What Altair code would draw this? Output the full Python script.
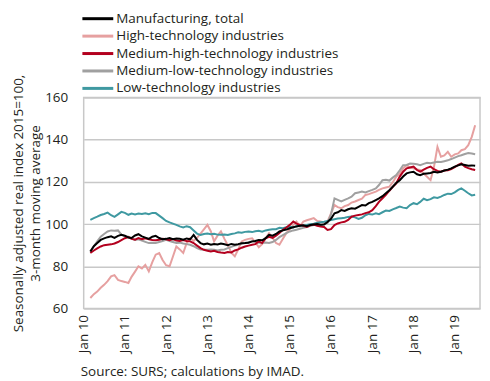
import altair as alt
import pandas as pd

FONT = "Open Sans"
TEXT_COLOR = "#231f20"
FS = 13.5

series_names = [
    "Manufacturing, total",
    "High-technology industries",
    "Medium-high-technology industries",
    "Medium-low-technology industries",
    "Low-technology industries",
]
series_colors = ["#000000", "#e6a0a0", "#b3001e", "#a0a0a0", "#3f99a1"]

# 3-month moving averages, monthly from Mar 2010 to Jul 2019
manufacturing_total = [
    87.0, 89.5, 91.0, 92.5, 93.2, 93.8, 94.2, 93.5, 94.4, 94.9,
    94.5, 93.6, 93.4, 94.6, 95.2, 94.2, 93.6, 93.0, 94.0, 94.4, 93.4, 92.8,
    93.0, 93.4, 92.8, 93.2, 93.0, 92.6, 93.2, 92.8, 94.9, 92.5, 91.0, 90.4,
    90.8, 90.2, 90.6, 90.3, 90.8, 90.4, 90.0, 90.6, 90.2, 90.5, 90.9, 91.0,
    91.2, 91.8, 92.0, 92.5, 92.3, 93.3, 94.9, 94.5, 95.3, 96.5, 97.0, 97.4,
    98.0, 98.5, 98.9, 99.2, 99.4, 99.0, 99.6, 99.8, 100.0, 99.7, 99.8, 101.0,
    102.5, 105.1, 105.6, 106.6, 106.2, 107.0, 107.5, 107.3, 108.2, 109.0, 108.8, 109.9,
    110.5, 111.4, 112.2, 113.2, 114.6, 116.0, 117.7, 119.5, 120.8, 122.5, 124.0, 124.5,
    124.8, 123.6, 123.2, 123.8, 124.0, 124.2, 124.8, 124.4, 124.8, 125.4, 125.8, 126.4,
    127.2, 127.8, 128.3, 128.0, 127.6, 127.8, 127.6,
]
high_tech = [
    65.0, 66.8, 68.0, 69.8, 71.2, 73.0, 75.2, 75.8, 73.6, 73.0,
    72.6, 72.1, 75.0, 77.5, 80.0, 79.0, 80.7, 77.6, 82.0, 85.5, 86.3, 83.0,
    80.5, 80.0, 84.5, 89.4, 88.0, 86.3, 91.0, 93.3, 92.0, 93.5, 95.5, 97.5,
    99.6, 96.5, 91.8, 94.5, 96.5, 93.0, 90.0, 86.5, 84.7, 88.0, 91.8, 92.5,
    93.0, 93.3, 91.5, 89.0, 90.5, 93.3, 95.7, 93.5, 91.0, 90.2, 93.0, 95.7,
    97.5, 99.6, 101.2, 98.9, 101.2, 101.8, 102.3, 102.8, 101.5, 101.2, 100.5, 101.2,
    105.0, 109.0, 108.0, 107.5, 108.5, 109.0, 110.2, 110.7, 111.4, 112.0, 113.8, 114.2,
    114.8, 115.4, 116.2, 116.9, 117.3, 117.7, 119.8, 122.4, 124.0, 126.4, 127.9, 126.8,
    126.4, 125.8, 125.6, 124.0, 122.4, 120.8, 127.0, 136.6, 131.9, 132.5, 134.2, 131.9,
    133.0, 133.5, 135.0, 135.5, 137.4, 141.3, 146.8,
]
medium_high_tech = [
    86.3, 87.5, 88.5, 89.4, 90.0, 90.2, 90.4, 90.8, 91.5, 92.4,
    93.3, 93.8, 93.0, 92.6, 93.4, 92.8, 93.3, 92.8, 92.5, 92.3, 92.6, 93.0,
    92.8, 92.4, 92.9, 92.2, 92.0, 92.4, 92.0, 91.8, 91.0, 89.8, 88.6, 87.8,
    87.4, 87.0, 87.3, 86.8, 86.5, 86.3, 86.8, 86.6, 87.5, 88.0, 88.8, 89.4,
    89.8, 90.2, 90.5, 91.8, 91.0, 93.3, 94.0, 93.5, 94.5, 95.8, 97.3, 98.4,
    99.6, 101.2, 100.2, 99.6, 99.2, 98.6, 99.4, 99.8, 99.2, 98.8, 98.6, 97.2,
    97.6, 99.5, 100.3, 100.8, 101.1, 102.0, 103.5, 104.0, 104.3, 104.6, 105.2, 105.6,
    106.6, 108.5, 110.5, 112.2, 113.8, 115.8, 117.6, 119.3, 122.5, 124.8, 126.4, 126.8,
    127.2, 125.6, 124.8, 125.8, 126.6, 127.2, 126.0, 125.2, 124.8, 125.4, 125.5, 126.0,
    127.0, 128.0, 128.7, 127.2, 126.5, 126.0, 125.6,
]
medium_low_tech = [
    87.0, 89.5, 91.8, 94.0, 95.3, 96.5, 97.0, 96.8, 97.0, 95.0,
    94.2, 94.0, 93.2, 92.5, 92.8, 92.2, 91.6, 91.0, 91.2, 91.0, 91.5, 92.0,
    92.5, 92.0, 91.5, 91.0, 91.2, 90.8, 90.5, 90.2, 89.5, 88.6, 88.0, 87.8,
    87.8, 88.0, 87.8, 87.5, 87.8, 88.0, 88.6, 89.2, 89.8, 90.2, 90.8, 91.0,
    91.5, 91.8, 91.6, 91.2, 91.0, 91.3, 91.0, 91.5, 92.5, 93.8, 94.8, 95.7,
    96.5, 97.0, 97.3, 97.8, 98.2, 98.6, 99.2, 99.6, 100.0, 99.5, 100.1, 100.5,
    104.5, 112.2, 111.5, 110.7, 111.5, 112.2, 113.0, 114.6, 115.0, 115.4, 115.0, 115.6,
    116.2, 116.9, 118.5, 120.8, 121.0, 120.6, 122.0, 123.2, 125.5, 127.9, 128.0, 128.7,
    128.6, 128.3, 127.9, 128.5, 129.0, 128.8, 129.2, 129.5, 129.4, 129.8, 130.2, 130.8,
    131.5, 132.2, 132.6, 133.2, 133.7, 133.4, 133.1,
]
low_tech = [
    102.0, 102.8, 103.5, 104.3, 104.8, 105.4, 104.2, 103.4, 104.6, 105.8,
    105.3, 104.4, 105.0, 104.6, 105.0, 104.8, 105.1, 104.7, 105.3, 105.2, 104.0, 102.8,
    101.5, 100.8, 100.2, 99.6, 98.9, 98.4, 99.0, 98.5, 97.0, 95.5, 94.8, 95.3,
    95.5, 95.2, 95.4, 95.0, 94.9, 95.1, 94.8, 95.3, 95.6, 96.1, 95.9, 96.3,
    96.5, 96.2, 96.6, 96.8, 96.4, 97.0, 97.3, 97.5, 97.6, 98.2, 98.0, 98.5,
    98.8, 98.4, 99.0, 99.3, 99.1, 99.6, 99.9, 100.2, 100.6, 100.9, 101.1, 101.5,
    101.9, 102.3, 102.6, 102.8, 103.0, 103.4, 103.6, 103.2, 102.4, 103.0, 104.2, 104.8,
    104.5, 105.1, 104.7, 105.6, 106.4, 106.2, 107.0, 107.6, 108.3, 107.8, 107.5, 109.0,
    109.9, 109.4, 110.5, 112.0, 111.3, 111.8, 112.7, 112.4, 113.0, 113.8, 114.4, 114.2,
    115.0, 116.2, 116.9, 115.8, 114.6, 113.6, 113.9,
]

tick_years = list(range(2010, 2020))
y_ticks = [60, 80, 100, 120, 140, 160]

months = pd.date_range("2010-03-01", periods=len(low_tech), freq="MS")
series_values = [manufacturing_total, high_tech, medium_high_tech, medium_low_tech, low_tech]
draw_order = [1, 3, 4, 2, 0]
frames = []
for k in draw_order:
    frames.append(pd.DataFrame({
        "date": months.strftime("%Y-%m-%dT00:00:00"),
        "value": series_values[k],
        "series": series_names[k],
        "ord": k,
    }))
df = pd.concat(frames, ignore_index=True)

chart = alt.Chart(df).mark_line(strokeWidth=2).encode(
    x=alt.X(
        "date:T",
        title=None,
        scale=alt.Scale(domain=[alt.DateTime(year=2010, month=1, date=1),
                                alt.DateTime(year=2019, month=8, date=13)]),
        axis=alt.Axis(
            values=[alt.DateTime(year=y, month=1, date=1) for y in tick_years],
            format="%b %y",
            labelAngle=-90,
            labelAlign="right",
            labelBaseline="middle",
            labelPadding=6,
            ticks=False,
            domain=False,
            grid=False,
            labelFontSize=FS,
            labelFont=FONT,
            labelColor=TEXT_COLOR,
        ),
    ),
    y=alt.Y(
        "value:Q",
        scale=alt.Scale(domain=[60, 160], nice=False, zero=False),
        axis=alt.Axis(
            values=y_ticks,
            title=["Seasonally adjusted real  index 2015=100,", "3-month moving average"],
            titleAngle=270,
            titleX=-61.5,
            titleY=106,
            titleAlign="center",
            titleBaseline="alphabetic",
            titleLineHeight=17.5,
            titleFontSize=FS,
            titleFontWeight="normal",
            titleFont=FONT,
            titleColor=TEXT_COLOR,
            labelPadding=16,
            ticks=False,
            domain=False,
            grid=True,
            gridColor="#c8c8c8",
            gridWidth=1.5,
            labelFontSize=FS,
            labelFont=FONT,
            labelColor=TEXT_COLOR,
        ),
    ),
    color=alt.Color(
        "series:N",
        scale=alt.Scale(domain=series_names, range=series_colors),
        legend=alt.Legend(
            orient="none",
            legendX=-1.3,
            legendY=-85.8,
            title=None,
            symbolType="M-1.35,0H4.85",
            symbolSize=100,
            symbolStrokeWidth=3,
            labelFontSize=FS,
            labelFont=FONT,
            labelColor=TEXT_COLOR,
            labelOffset=20.5,
            labelLimit=400,
            rowPadding=2.5,
            padding=0,
            direction="vertical",
        ),
    ),
    detail="ord:N",
).properties(
    width=398,
    height=212,
    title=alt.TitleParams(
        text="Source: SURS; calculations by IMAD.",
        orient="bottom",
        anchor="start",
        frame="group",
        fontSize=FS,
        fontWeight="normal",
        font=FONT,
        color=TEXT_COLOR,
        offset=12,
        dx=-3,
    ),
    autosize=alt.AutoSizeParams(type="none"),
    padding={"left": 76, "top": 89, "right": 2, "bottom": 72},
).configure_view(
    stroke="#c8c8c8",
    strokeWidth=1.5,
)

chart.save("out.html", embed_options={"renderer": "svg", "actions": False})
